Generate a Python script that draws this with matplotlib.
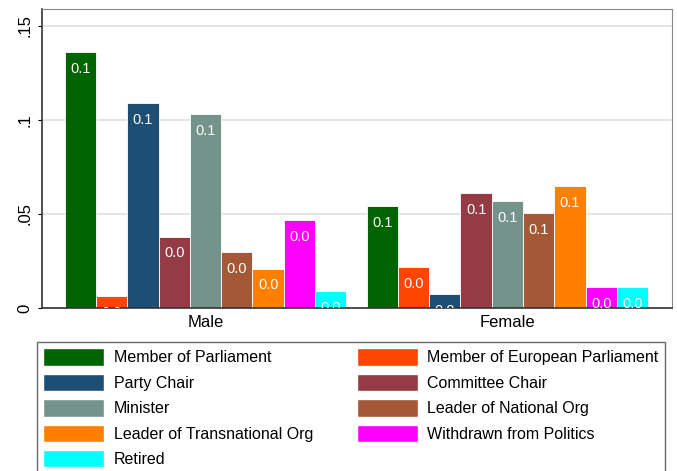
import numpy as np
import matplotlib.pyplot as plt
from matplotlib.patches import Patch

plt.rcParams["font.family"] = ["Liberation Sans", "DejaVu Sans"]

groups = ["Male", "Female"]
series = ["Member of Parliament", "Member of European Parliament", "Party Chair",
          "Committee Chair", "Minister", "Leader of National Org",
          "Leader of Transnational Org", "Withdrawn from Politics", "Retired"]
male = [0.136, 0.0064, 0.109, 0.038, 0.103, 0.030, 0.021, 0.047, 0.009]
female = [0.054, 0.022, 0.0074, 0.061, 0.057, 0.0505, 0.065, 0.011, 0.011]
colors = ["#006400", "#FF4500", "#1F4E75", "#943B45", "#74938A", "#A45835",
          "#FF8000", "#FF00FF", "#00FFFF"]

fig = plt.figure(figsize=(6.77, 4.71), dpi=100)
ax = fig.add_axes([0.062, 0.346, 0.931, 0.635])

n = len(series)
starts = [0, n + 0.65]
for g, vals in enumerate([male, female]):
    xs = starts[g] + np.arange(n)
    ax.bar(xs, vals, width=1.0, color=colors, edgecolor="white", linewidth=0.6, zorder=2)
    for x, v in zip(xs, vals):
        ax.text(x, v - 0.009, "%.1f" % v, color="white", ha="center", va="center",
                fontsize=10.5, clip_on=True, zorder=3)

ax.set_xlim(-1.23, starts[1] + n - 1 + 1.27)
ax.set_ylim(0, 0.159)
ax.set_yticks([0, 0.05, 0.1, 0.15])
ax.set_yticklabels(["0", ".05", ".1", ".15"], rotation=90, va="center", fontsize=12)
ax.set_xticks([starts[0] + (n - 1) / 2, starts[1] + (n - 1) / 2])
ax.set_xticklabels(groups, fontsize=12)
ax.tick_params(axis="x", length=0, pad=5)
ax.tick_params(axis="y", length=3, pad=4)
ax.yaxis.grid(True, color="#e0e0e0", linewidth=1.2, zorder=0)
ax.set_axisbelow(True)
for s in ["top", "right"]:
    ax.spines[s].set_color("#888888")
for s in ["left", "bottom"]:
    ax.spines[s].set_color("#333333")
    ax.spines[s].set_linewidth(1.2)

handles = [Patch(facecolor=c, edgecolor="white") for c in colors]
order = list(range(0, n, 2)) + list(range(1, n, 2))
leg = fig.legend([handles[i] for i in order], [series[i] for i in order],
                 ncol=2, loc="upper left", bbox_to_anchor=(37 / 677, 0, 628 / 677, 1 - 342 / 471),
                 mode="expand", fancybox=False, edgecolor="#444444", fontsize=11.5,
                 handlelength=3.8, handleheight=1.3, labelspacing=0.5,
                 handletextpad=0.6, borderaxespad=0, borderpad=0.4)
leg.get_frame().set_linewidth(1.0)

fig.savefig("out.png", dpi=100)
plt.close()
